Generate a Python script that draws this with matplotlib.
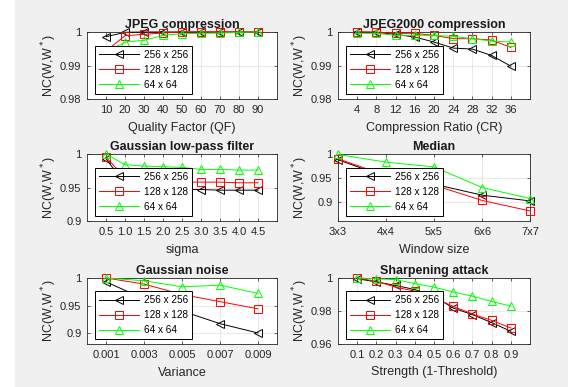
import matplotlib
matplotlib.use('Agg')
import matplotlib.pyplot as plt
from matplotlib.patches import Rectangle

plt.rcParams.update({
    'font.family': 'Liberation Sans',
    'font.size': 8,
    'axes.linewidth': 0.6,
})

# ------------------------------------------------------------
# data
# ------------------------------------------------------------
sizes = ['256 x 256', '128 x 128', '64 x 64']

qf = [10, 20, 30, 40, 50, 60, 70, 80, 90]
jpeg_256 = [0.9986, 0.9999, 1.0, 1.0, 1.0, 1.0, 1.0, 1.0, 1.0]
jpeg_128 = [0.9943, 0.9989, 0.9993, 0.9997, 1.0, 1.0, 1.0, 1.0, 1.0]
jpeg_64 = [0.9940, 0.9970, 0.9975, 0.9990, 0.9995, 0.9996, 0.9997, 0.9999, 1.0]

cr = [4, 8, 12, 16, 20, 24, 28, 32, 36]
j2k_256 = [1.0, 0.9999, 0.9993, 0.9985, 0.9970, 0.9952, 0.9949, 0.9930, 0.9898]
j2k_128 = [1.0, 1.0, 0.9996, 0.9996, 0.9990, 0.9980, 0.9980, 0.9976, 0.9954]
j2k_64 = [0.9996, 0.9996, 0.9990, 0.9990, 0.9990, 0.9987, 0.9980, 0.9973, 0.9970]

sigma = [0.5, 1, 1.5, 2, 2.5, 3, 3.5, 4, 4.5]
glp_256 = [0.993, 0.955, 0.950, 0.948, 0.947, 0.947, 0.946, 0.946, 0.946]
glp_128 = [0.995, 0.965, 0.960, 0.959, 0.958, 0.958, 0.958, 0.957, 0.957]
glp_64 = [1.0, 0.984, 0.982, 0.981, 0.980, 0.977, 0.977, 0.976, 0.976]

win = [3, 4, 5, 6, 7]
win_labels = ['3x3', '4x4', '5x5', '6x6', '7x7']
med_256 = [0.988, 0.952, 0.937, 0.914, 0.902]
med_128 = [0.990, 0.955, 0.935, 0.903, 0.881]
med_64 = [0.999, 0.983, 0.973, 0.930, 0.907]

var = [0.001, 0.003, 0.005, 0.007, 0.009]
var_labels = ['0.001', '0.003', '0.005', '0.007', '0.009']
gn_256 = [0.993, 0.962, 0.940, 0.917, 0.900]
gn_128 = [1.0, 0.989, 0.970, 0.957, 0.944]
gn_64 = [1.0, 0.995, 0.984, 0.987, 0.972]

strength = [0.1, 0.2, 0.3, 0.4, 0.5, 0.6, 0.7, 0.8, 0.9]
sh_256 = [0.9996, 0.9976, 0.9955, 0.9930, 0.9890, 0.9818, 0.9778, 0.9730, 0.9677]
sh_128 = [1.0, 0.9980, 0.9945, 0.9920, 0.9880, 0.9828, 0.9782, 0.9743, 0.9697]
sh_64 = [1.0, 0.9995, 0.9990, 0.9966, 0.9945, 0.9915, 0.9890, 0.9858, 0.9830]

panels = [
    ('JPEG compression', 'Quality Factor (QF)', qf, [jpeg_256, jpeg_128, jpeg_64],
     (0, 100), qf, None, (0.98, 1.0), [0.98, 0.99, 1.0], ['0.98', '0.99', '1']),
    ('JPEG2000 compression', 'Compression Ratio (CR)', cr, [j2k_256, j2k_128, j2k_64],
     (0, 40), cr, None, (0.98, 1.0), [0.98, 0.99, 1.0], ['0.98', '0.99', '1']),
    ('Gaussian low-pass filter', 'sigma', sigma, [glp_256, glp_128, glp_64],
     (0, 5), sigma, None, (0.9, 1.0), [0.9, 0.95, 1.0], ['0.9', '0.95', '1']),
    ('Median', 'Window size', win, [med_256, med_128, med_64],
     (3, 7), win, win_labels, (0.86, 1.0), [0.9, 0.95, 1.0], ['0.9', '0.95', '1']),
    ('Gaussian noise', 'Variance', var, [gn_256, gn_128, gn_64],
     (0, 0.01), var, var_labels, (0.88, 1.0), [0.9, 0.95, 1.0], ['0.9', '0.95', '1']),
    ('Sharpening attack', 'Strength (1-Threshold)', strength, [sh_256, sh_128, sh_64],
     (0, 1), strength, None, (0.96, 1.0), [0.96, 0.98, 1.0], ['0.96', '0.98', '1']),
]

colors = ['#000000', '#ff0000', '#00ff00']
markers = ['<', 's', '^']

W, H = 568, 387
fig = plt.figure(figsize=(W / 100, H / 100), dpi=100)
fig.patch.set_facecolor('#f0f0f0')
# white strip down the left edge, as in the original screenshot
fig.patches.append(Rectangle((0, 0), 15 / W, 1, transform=fig.transFigure,
                             facecolor='white', edgecolor='none', zorder=-1))

col_x = [(87, 190), (338, 192)]
row_y = [(32, 67), (154, 67), (278, 66)]

for idx, (title, xlabel, x, ys, xlim, xt, xtl, ylim, yt, ytl) in enumerate(panels):
    r, c = idx // 2, idx % 2
    left, w = col_x[c]
    top, h = row_y[r]
    ax = fig.add_axes([left / W, 1 - (top + h) / H, w / W, h / H])
    ax.set_facecolor('white')
    for y, col, m, lab in zip(ys, colors, markers, sizes):
        ax.plot(x, y, color=col, marker=m, markersize=5.5, markerfacecolor='none',
                markeredgewidth=0.7, linewidth=0.7, label=lab, clip_on=False, zorder=3)
    ax.set_xlim(*xlim)
    ax.set_ylim(*ylim)
    ax.set_xticks(xt)
    if xtl is not None:
        ax.set_xticklabels(xtl)
    ax.set_yticks(yt)
    ax.set_yticklabels(ytl)
    ax.grid(True, color='#e0e0e0', linewidth=0.5)
    ax.set_axisbelow(True)
    ax.tick_params(direction='in', length=2.5, width=0.5, colors='#262626',
                   labelsize=8, pad=4, top=True, right=True)
    for s in ax.spines.values():
        s.set_color('#262626')
    ax.set_title(title, fontsize=9, fontweight='bold', pad=3, color='#1a1a1a')
    ax.set_xlabel(xlabel, fontsize=9, color='#262626', labelpad=5)
    ax.set_ylabel('NC(W,W$^*$)', fontsize=9, color='#262626', labelpad=1)
    leg = ax.legend(loc='lower left', bbox_to_anchor=(0.042, 0.075), borderaxespad=0,
                    fontsize=7.2, handlelength=4.0, labelspacing=0.5,
                    borderpad=0.4, handletextpad=0.5, fancybox=False, framealpha=1)
    leg.get_frame().set_edgecolor('black')
    leg.get_frame().set_linewidth(0.7)
    leg.set_zorder(5)

fig.savefig('out.png', dpi=100, facecolor=fig.get_facecolor())
